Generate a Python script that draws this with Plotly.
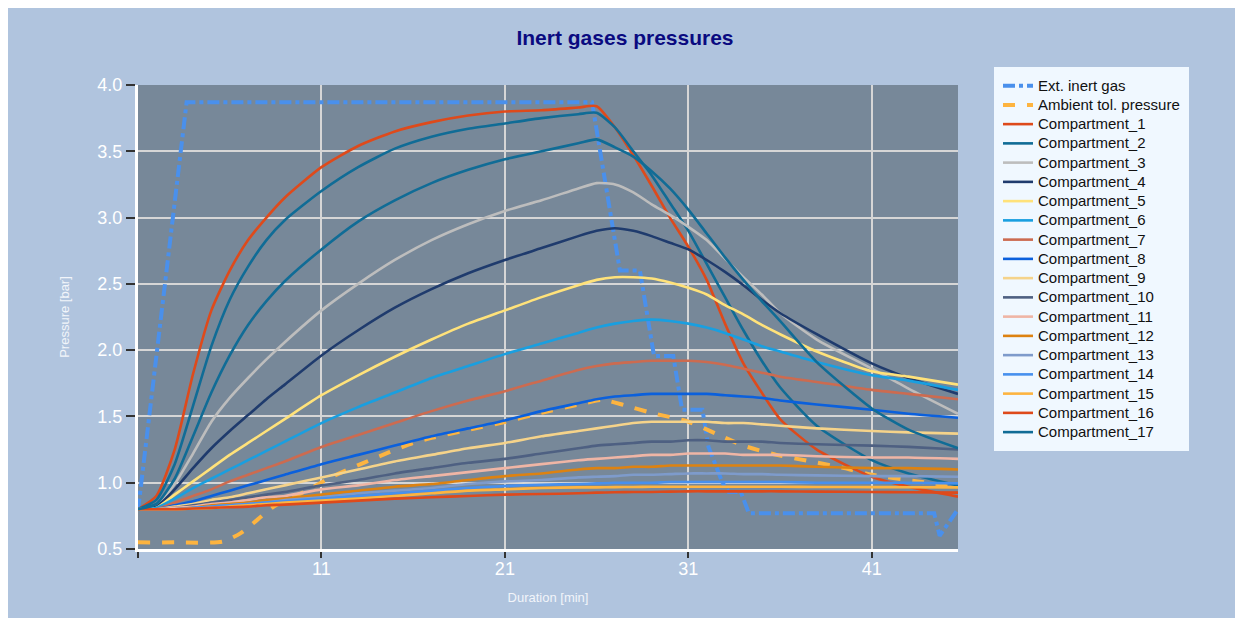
import plotly.graph_objects as go

# ---------------- data ----------------
time_min = [1, 2, 3, 4, 5, 6, 7, 8, 9, 11, 13, 15, 17, 19, 21, 23, 25, 26, 27, 28,
            29, 30, 31, 32, 33, 34, 35, 36, 38, 41, 43, 45.7]

ext_time = [1, 3.65, 25.75, 27.27, 28.36, 29.13, 30.18, 30.66, 31.77, 32.1, 32.86,
            33.2, 33.86, 34.3, 44.4, 44.7, 45.7]
ext_gas = [0.79, 3.87, 3.87, 2.60, 2.60, 1.955, 1.955, 1.55, 1.55, 1.27, 1.0,
           0.93, 0.93, 0.77, 0.77, 0.60, 0.80]

amb_time = [1, 3, 5.6, 6.6, 7.5, 8.4, 10.2, 11.5, 13.3, 14.7, 16, 17, 19, 21, 23, 25,
            26.3, 27.5, 28.9, 31, 32.5, 34, 35.8, 37.7, 39.5, 41, 43.5, 45.7]
amb_tol = [0.55, 0.55, 0.555, 0.62, 0.72, 0.82, 0.94, 1.04, 1.15, 1.23, 1.30, 1.338,
           1.398, 1.458, 1.528, 1.588, 1.625, 1.585, 1.53, 1.46, 1.37, 1.28, 1.21, 1.16,
           1.11, 1.06, 1.01, 0.97]

comp_1 = [0.80, 0.90, 1.25, 1.82, 2.30, 2.60, 2.83, 3.00, 3.15, 3.38, 3.54, 3.65, 3.72,
          3.77, 3.80, 3.81, 3.83, 3.84, 3.68, 3.47, 3.24, 3.00, 2.78, 2.53, 2.20, 1.90,
          1.68, 1.48, 1.25, 1.045, 0.97, 0.895]
comp_2 = [0.80, 0.87, 1.14, 1.58, 2.03, 2.38, 2.63, 2.83, 2.98, 3.20, 3.38, 3.52, 3.61,
          3.67, 3.71, 3.75, 3.78, 3.79, 3.68, 3.50, 3.32, 3.11, 2.90, 2.65, 2.40, 2.15,
          1.92, 1.72, 1.43, 1.17, 1.07, 0.98]
comp_3 = [0.80, 0.83, 0.99, 1.22, 1.46, 1.64, 1.79, 1.93, 2.06, 2.30, 2.50, 2.68, 2.83,
          2.95, 3.05, 3.13, 3.22, 3.26, 3.25, 3.19, 3.10, 3.02, 2.93, 2.83, 2.69, 2.55,
          2.42, 2.28, 2.08, 1.86, 1.71, 1.52]
comp_4 = [0.80, 0.82, 0.95, 1.11, 1.26, 1.39, 1.51, 1.63, 1.74, 1.96, 2.15, 2.32, 2.46,
          2.58, 2.68, 2.77, 2.86, 2.90, 2.92, 2.90, 2.86, 2.81, 2.76, 2.68, 2.59, 2.49,
          2.38, 2.28, 2.12, 1.90, 1.79, 1.67]
comp_5 = [0.80, 0.81, 0.91, 1.01, 1.11, 1.21, 1.30, 1.39, 1.48, 1.66, 1.81, 1.95, 2.08,
          2.20, 2.30, 2.40, 2.49, 2.53, 2.55, 2.55, 2.54, 2.51, 2.47, 2.42, 2.34, 2.27,
          2.19, 2.12, 1.99, 1.84, 1.80, 1.74]
comp_6 = [0.80, 0.81, 0.88, 0.96, 1.03, 1.10, 1.17, 1.24, 1.31, 1.45, 1.57, 1.68, 1.79,
          1.88, 1.97, 2.05, 2.13, 2.17, 2.20, 2.22, 2.23, 2.22, 2.20, 2.17, 2.13, 2.08,
          2.03, 1.99, 1.91, 1.81, 1.77, 1.70]
comp_7 = [0.80, 0.80, 0.85, 0.90, 0.95, 1.01, 1.06, 1.11, 1.16, 1.27, 1.36, 1.45, 1.54,
          1.62, 1.69, 1.77, 1.85, 1.88, 1.90, 1.91, 1.92, 1.92, 1.92, 1.91, 1.89, 1.86,
          1.83, 1.80, 1.76, 1.70, 1.67, 1.63]
comp_8 = [0.80, 0.80, 0.83, 0.86, 0.90, 0.94, 0.98, 1.02, 1.06, 1.14, 1.21, 1.28, 1.35,
          1.41, 1.47, 1.54, 1.60, 1.63, 1.65, 1.66, 1.67, 1.67, 1.67, 1.67, 1.66, 1.65,
          1.64, 1.62, 1.59, 1.55, 1.52, 1.49]
comp_9 = [0.80, 0.80, 0.82, 0.84, 0.87, 0.89, 0.92, 0.95, 0.98, 1.04, 1.10, 1.16, 1.21,
          1.26, 1.30, 1.35, 1.39, 1.41, 1.43, 1.45, 1.46, 1.46, 1.46, 1.46, 1.45, 1.45,
          1.44, 1.43, 1.41, 1.39, 1.38, 1.37]
comp_10 = [0.80, 0.80, 0.81, 0.83, 0.85, 0.87, 0.89, 0.91, 0.93, 0.98, 1.02, 1.07, 1.11,
           1.15, 1.18, 1.22, 1.26, 1.28, 1.29, 1.30, 1.31, 1.31, 1.32, 1.32, 1.31, 1.31,
           1.31, 1.30, 1.29, 1.28, 1.27, 1.25]
comp_11 = [0.80, 0.80, 0.81, 0.82, 0.84, 0.85, 0.87, 0.89, 0.90, 0.95, 0.98, 1.02, 1.05,
           1.08, 1.11, 1.14, 1.17, 1.18, 1.19, 1.20, 1.21, 1.21, 1.22, 1.22, 1.22, 1.21,
           1.21, 1.21, 1.20, 1.19, 1.19, 1.18]
comp_12 = [0.80, 0.80, 0.80, 0.81, 0.83, 0.84, 0.85, 0.87, 0.88, 0.91, 0.94, 0.97, 0.99,
           1.02, 1.05, 1.07, 1.10, 1.11, 1.11, 1.12, 1.12, 1.13, 1.13, 1.13, 1.13, 1.13,
           1.13, 1.13, 1.12, 1.11, 1.11, 1.10]
comp_13 = [0.80, 0.80, 0.80, 0.81, 0.82, 0.83, 0.84, 0.85, 0.87, 0.89, 0.92, 0.94, 0.96,
           0.99, 1.01, 1.02, 1.04, 1.045, 1.05, 1.06, 1.06, 1.065, 1.07, 1.07, 1.07, 1.065,
           1.065, 1.06, 1.055, 1.05, 1.05, 1.045]
comp_14 = [0.80, 0.80, 0.80, 0.81, 0.82, 0.83, 0.84, 0.85, 0.86, 0.88, 0.90, 0.92, 0.94,
           0.96, 0.975, 0.985, 0.99, 0.995, 1.0, 1.0, 1.0, 1.005, 1.005, 1.005, 1.005, 1.005,
           1.005, 1.005, 1.0, 1.0, 1.0, 0.995]
comp_15 = [0.80, 0.80, 0.80, 0.805, 0.81, 0.82, 0.83, 0.84, 0.85, 0.865, 0.88, 0.90, 0.92,
           0.94, 0.95, 0.96, 0.965, 0.965, 0.967, 0.968, 0.969, 0.97, 0.97, 0.97, 0.97, 0.97,
           0.97, 0.97, 0.968, 0.967, 0.966, 0.965]
comp_16 = [0.80, 0.80, 0.80, 0.805, 0.81, 0.815, 0.82, 0.83, 0.835, 0.85, 0.865, 0.88, 0.89,
           0.90, 0.91, 0.915, 0.92, 0.925, 0.928, 0.93, 0.93, 0.933, 0.935, 0.935, 0.935,
           0.935, 0.935, 0.935, 0.933, 0.93, 0.928, 0.925]
comp_17 = [0.80, 0.84, 1.03, 1.35, 1.68, 1.96, 2.19, 2.37, 2.52, 2.76, 2.97, 3.13, 3.26,
           3.36, 3.44, 3.50, 3.56, 3.59, 3.53, 3.46, 3.35, 3.22, 3.06, 2.88, 2.70, 2.53,
           2.37, 2.22, 1.91, 1.56, 1.40, 1.26]

compartments = [comp_1, comp_2, comp_3, comp_4, comp_5, comp_6, comp_7, comp_8, comp_9,
                comp_10, comp_11, comp_12, comp_13, comp_14, comp_15, comp_16, comp_17]
comp_names = ["Compartment_%d" % i for i in range(1, 18)]
comp_colors = ["#DE4A1B", "#106C96", "#BDBDBD", "#1F3B6D", "#FFE27A", "#199FE0",
               "#CC6B50", "#0B60DC", "#F5D38A", "#4E6082", "#EFB5A5", "#DD8211",
               "#7E9BCB", "#4790EE", "#FDB440", "#DE4A1B", "#106C96"]

x_ticks = [1, 11, 21, 31, 41]
x_tick_text = ["", "11", "21", "31", "41"]
y_ticks = [0.5, 1.0, 1.5, 2.0, 2.5, 3.0, 3.5, 4.0]

# ---------------- figure ----------------
FONT = "Liberation Sans, Arial, sans-serif"
LEG_SPAN = '<span style="font-size:15px">%s</span>'

fig = go.Figure()
fig.add_trace(go.Scatter(x=ext_time, y=ext_gas, name=LEG_SPAN % "Ext. inert gas",
                         mode="lines",
                         line=dict(color="#4A90EC", width=4, dash="dashdot")))
fig.add_trace(go.Scatter(x=amb_time, y=amb_tol, name=LEG_SPAN % "Ambient tol. pressure",
                         mode="lines",
                         line=dict(color="#FDB440", width=4, dash="dash",
                                   shape="spline", smoothing=0.6)))
for name, vals, col in zip(comp_names, compartments, comp_colors):
    fig.add_trace(go.Scatter(x=time_min, y=vals, name=LEG_SPAN % name, mode="lines",
                             line=dict(color=col, width=2.6, shape="spline",
                                       smoothing=0.6)))

W, H = 1227, 610
L, R, T, B = 130, 950, 77, 541
pw, ph = R - L, B - T

fig.update_layout(
    width=W, height=H,
    margin=dict(l=L, r=W - R, t=T, b=H - B, autoexpand=False),
    paper_bgcolor="#B0C4DE",
    plot_bgcolor="#778899",
    font=dict(family=FONT, color="white"),
    title=dict(text="<b>Inert gases pressures</b>", x=617 / W, xref="container",
               y=1 - 30 / H, yref="container", yanchor="middle", xanchor="center",
               font=dict(family=FONT, size=21, color="#0A0A80")),
    showlegend=True,
    legend=dict(x=(986 - L) / pw, y=(B - 59) / ph, xanchor="left", yanchor="top",
                bgcolor="#F0F8FF", bordercolor="#F0F8FF", borderwidth=4,
                tracegroupgap=0, maxheight=560,
                entrywidth=165, entrywidthmode="pixels",
                font=dict(family=FONT, size=12.5, color="#111111")),
    xaxis=dict(range=[1, 45.7], tickvals=x_ticks, ticktext=x_tick_text,
               showgrid=True, gridcolor="#D6D6D6", gridwidth=1.5,
               showline=True, linecolor="white", linewidth=3,
               ticks="outside", ticklen=6, tickwidth=2, tickcolor="#333333",
               ticklabelstandoff=-5,
               tickfont=dict(family=FONT, size=18, color="white"),
               zeroline=False,
               title=dict(text="Duration [min]", standoff=16,
                          font=dict(family=FONT, size=13, color="#F2F5FA"))),
    yaxis=dict(range=[0.5, 4.0], tickvals=y_ticks, tickformat=".1f",
               showgrid=True, gridcolor="#D6D6D6", gridwidth=1.5,
               showline=True, linecolor="white", linewidth=3,
               ticks="outside", ticklen=9, tickwidth=2, tickcolor="#333333",
               tickfont=dict(family=FONT, size=18, color="white"),
               zeroline=False,
               title=dict(text="Pressure [bar]", standoff=25,
                          font=dict(family=FONT, size=13, color="#F2F5FA"))),
)

fig.write_html("out.html")
